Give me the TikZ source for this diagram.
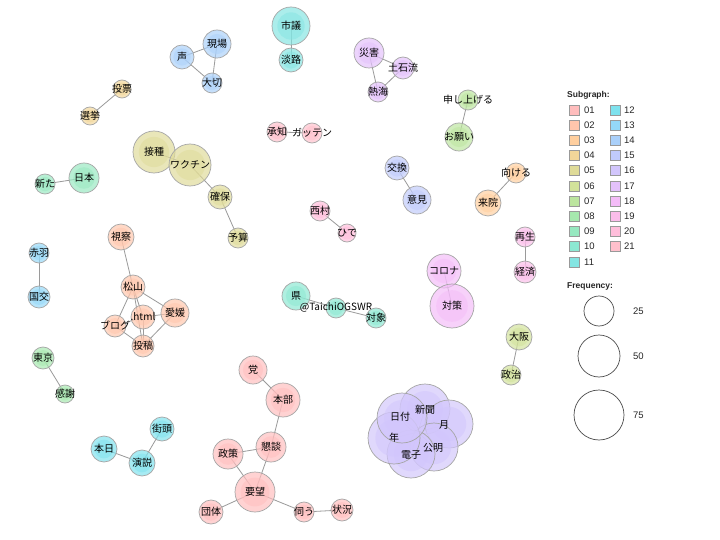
\documentclass[tikz,border=0pt]{standalone}
\usepackage{fontspec}
\setmainfont{Liberation Sans}
\newfontfamily\jp{Noto Sans CJK JP}
\usetikzlibrary{backgrounds}
\definecolor{c01}{HTML}{FFBDBD}
\definecolor{c02}{HTML}{FFC6AC}
\definecolor{c03}{HTML}{FFCF9F}
\definecolor{c04}{HTML}{F2D699}
\definecolor{c05}{HTML}{DFDB98}
\definecolor{c06}{HTML}{D2E29A}
\definecolor{c07}{HTML}{BCE59F}
\definecolor{c08}{HTML}{A6E8AE}
\definecolor{c09}{HTML}{97E8C0}
\definecolor{c10}{HTML}{8CE8D2}
\definecolor{c11}{HTML}{84E5E2}
\definecolor{c12}{HTML}{7EE2EE}
\definecolor{c13}{HTML}{94D8F8}
\definecolor{c14}{HTML}{AAD0FA}
\definecolor{c15}{HTML}{C0CBFB}
\definecolor{c16}{HTML}{D2C6FC}
\definecolor{c17}{HTML}{E3C1FB}
\definecolor{c18}{HTML}{F4BCF8}
\definecolor{c19}{HTML}{FBBDEA}
\definecolor{c20}{HTML}{FFBEDB}
\definecolor{c21}{HTML}{FFC0CC}
\definecolor{edgegray}{HTML}{9A9A9A}
\tikzset{
  wn/.style 2 args={circle, draw=black!35, line width=0.7pt, minimum size=#1, inner sep=0pt,
    fill=#2, fill opacity=0.68,
    path picture={\fill[#2, fill opacity=0.5] (path picture bounding box.center) circle (0.36*#1);}},
  lbl/.style={inner sep=0pt, font=\jp\fontsize{10}{12}\selectfont, text=black},
  edge/.style={draw=edgegray, line width=0.8pt},
  legsq/.style={draw=black!40, line width=0.6pt, minimum size=10pt, inner sep=0pt},
  legtx/.style={anchor=west, inner sep=0pt, font=\fontsize{9.5}{11}\selectfont, text=black!85},
  legtitle/.style={anchor=west, inner sep=0pt, font=\bfseries\fontsize{8.5}{10}\selectfont, text=black!85},
  freqc/.style={circle, draw=black!70, line width=0.7pt, inner sep=0pt}
}
\newcommand\wnode[6]{%
  \node[wn={#4*2pt}{#5}] (#1) at (#2,#3) {};
  \node[lbl] (#1l) at (#2,#3) {#6};}
\begin{document}
\begin{tikzpicture}[x=1pt,y=-1pt]
\begin{scope}[on background layer]
\fill[white] (0,0) rectangle (720,540);
\end{scope}
\useasboundingbox (0,0) rectangle (720,540);
% subgraph 14
\wnode{koe}{182}{57}{12}{c14}{声}
\wnode{genba}{217}{44}{14}{c14}{現場}
\wnode{taisetsu}{212}{83}{10}{c14}{大切}
% 11
\wnode{shigi}{291}{26}{19}{c11}{市議}
\wnode{awaji}{291}{60}{12}{c11}{淡路}
% 04
\wnode{tohyo}{122}{89}{9}{c04}{投票}
\wnode{senkyo}{90}{116}{9}{c04}{選挙}
% 05
\wnode{sesshu}{154}{152}{21}{c05}{接種}
\wnode{vaccine}{190}{165}{21}{c05}{ワクチン}
\wnode{kakuho}{220}{197}{12}{c05}{確保}
\wnode{yosan}{238}{238}{10}{c05}{予算}
% 09
\wnode{nihon}{84}{178}{15}{c09}{日本}
\wnode{arata}{45}{184}{10}{c09}{新た}
% 21
\wnode{shochi}{277}{132}{10}{c21}{承知}
\wnode{gatten}{312}{133}{10}{c21}{ガッテン}
% 20
\wnode{nishimura}{320}{211}{10}{c20}{西村}
\wnode{hide}{347}{233}{9}{c20}{ひで}
% 02
\wnode{shisatsu}{121}{237}{13}{c02}{視察}
\wnode{matsuyama}{133}{287}{12}{c02}{松山}
\wnode{blog}{115}{326}{11}{c02}{ブログ}
\wnode{html}{143}{317}{12}{c02}{.html}
\wnode{ehime}{175}{313}{14}{c02}{愛媛}
\wnode{toko}{143}{346}{11}{c02}{投稿}
% 13
\wnode{akabane}{39}{253}{10}{c13}{赤羽}
\wnode{kokko}{39}{297}{11}{c13}{国交}
% 08
\wnode{tokyo}{43}{358}{11}{c08}{東京}
\wnode{kansha}{65}{394}{9}{c08}{感謝}
% 12
\wnode{honjitsu}{104}{449}{13}{c12}{本日}
\wnode{enzetsu}{142}{463}{13}{c12}{演説}
\wnode{gaito}{162}{429}{12}{c12}{街頭}
% 10
\wnode{ken}{296}{296}{14}{c10}{県}
\wnode{taichi}{336}{308}{10}{c10}{}
\node[lbl] (taichil) at (336,307) {@TaichiOGSWR};
\wnode{taisho}{376}{318}{10}{c10}{対象}
% 01
\wnode{to}{253}{370}{14}{c01}{党}
\wnode{honbu}{283}{400}{17}{c01}{本部}
\wnode{kondan}{271}{447}{15}{c01}{懇談}
\wnode{seisaku}{228}{454}{15}{c01}{政策}
\wnode{yobo}{255}{492}{20}{c01}{要望}
\wnode{dantai}{211}{512}{12}{c01}{団体}
\wnode{ukagau}{304}{512}{10}{c01}{伺う}
\wnode{jokyo}{342}{510}{11}{c01}{状況}
% 17
\wnode{saigai}{369}{53}{15}{c17}{災害}
\wnode{dosekiryu}{403}{68}{11}{c17}{土石流}
\wnode{atami}{378}{92}{10}{c17}{熱海}
% 07
\wnode{moshiageru}{468}{100}{10}{c07}{申し上げる}
\wnode{onegai}{459}{137}{14}{c07}{お願い}
% 15
\wnode{kokan}{397}{168}{12}{c15}{交換}
\wnode{iken}{417}{200}{14}{c15}{意見}
% 03
\wnode{mukeru}{516}{173}{10}{c03}{向ける}
\wnode{raiin}{488}{203}{13}{c03}{来院}
% 19
\wnode{saisei}{525}{237}{10}{c19}{再生}
\wnode{keizai}{525}{272}{11}{c19}{経済}
% 18
\wnode{corona}{444}{271}{17}{c18}{コロナ}
\wnode{taisaku}{452}{306}{22}{c18}{対策}
% 06
\wnode{osaka}{519}{337}{13}{c06}{大阪}
\wnode{seiji}{511}{375}{10}{c06}{政治}
% 16
\wnode{shinbun}{425}{409}{25}{c16}{}
\wnode{tsuki}{449}{424}{24}{c16}{}
\wnode{komei}{434}{447}{24}{c16}{}
\wnode{denshi}{411}{454}{24}{c16}{}
\wnode{nen}{394}{438}{26}{c16}{}
\wnode{hiduke}{402}{418}{25}{c16}{}
\node[lbl] (hidukel2) at (400,417) {日付};
\node[lbl] (shinbunl2) at (425,410) {新聞};
\node[lbl] (tsukil2) at (444,425) {月};
\node[lbl] (komeil2) at (433,448) {公明};
\node[lbl] (denshil2) at (411,455) {電子};
\node[lbl] (nenl2) at (394,438) {年};
% edges
\begin{scope}[on background layer]
\foreach \a/\b in {koe/genba, genba/taisetsu, koe/taisetsu, shigi/awaji, tohyo/senkyo,
  sesshu/vaccine, vaccine/kakuho, kakuho/yosan, nihon/arata, shochi/gatten, nishimura/hide,
  shisatsu/matsuyama, matsuyama/blog, matsuyama/html, matsuyama/ehime, matsuyama/toko,
  blog/html, html/ehime, blog/toko, ehime/toko, html/toko,
  akabane/kokko, tokyo/kansha, honjitsu/enzetsu, enzetsu/gaito,
  ken/taichi, taichi/taisho,
  to/honbu, honbu/kondan, kondan/seisaku, kondan/yobo, seisaku/yobo, yobo/dantai, yobo/ukagau, ukagau/jokyo,
  saigai/dosekiryu, dosekiryu/atami, saigai/atami, moshiageru/onegai, kokan/iken, mukeru/raiin,
  saisei/keizai, corona/taisaku, osaka/seiji,
  hiduke/komei, shinbun/denshi, tsuki/nen}
  \path[edge] (\a.center) -- (\b.center);
\end{scope}
% legend
\node[legtitle] (subt) at (567,95) {Subgraph:};
\foreach \i/\y in {01/110,02/125,03/140,04/155,05/170,06/186,07/201,08/216,09/231,10/246,11/262}{
  \node[legsq, fill=c\i] (sq\i) at (574,\y) {};
  \node[legtx] (lt\i) at (584,\y) {\i};
}
\foreach \i/\y in {12/110,13/125,14/140,15/155,16/170,17/186,18/201,19/216,20/231,21/246}{
  \node[legsq, fill=c\i] (sq\i) at (615,\y) {};
  \node[legtx] (lt\i) at (624,\y) {\i};
}
\node[legtitle] (freqt) at (567,286) {Frequency:};
\node[freqc, minimum size=30pt] (f25) at (599,311) {};
\node[legtx] (f25l) at (633,311) {25};
\node[freqc, minimum size=42pt] (f50) at (599,356) {};
\node[legtx] (f50l) at (633,356) {50};
\node[freqc, minimum size=50pt] (f75) at (599,415) {};
\node[legtx] (f75l) at (633,415) {75};
\end{tikzpicture}
\end{document}
